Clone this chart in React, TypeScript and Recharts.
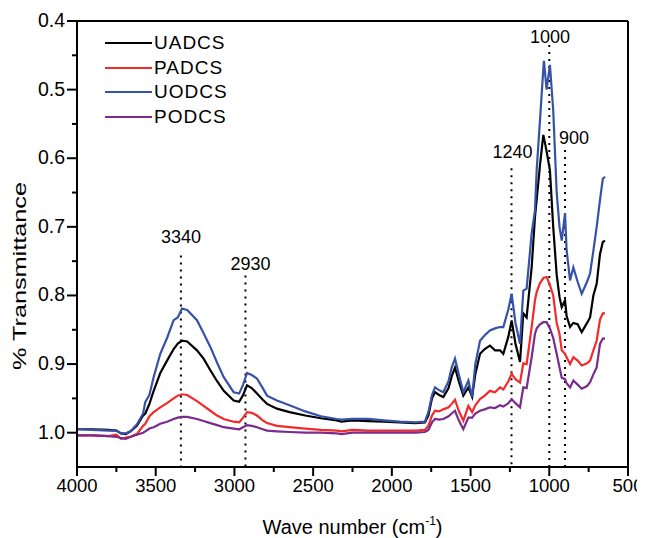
import React from 'react';
import { LineChart, Line, XAxis, YAxis, ReferenceLine, ReferenceDot } from 'recharts';

const wavenumbers = [
  4000, 3900, 3800, 3750, 3720, 3690, 3660, 3620, 3580, 3566, 3540, 3513, 3471, 3428, 3386, 3360, 3333, 3300,
  3238, 3196, 3153, 3110, 3068, 3005, 2970, 2945, 2920, 2890, 2857, 2820, 2793, 2730, 2650, 2550, 2450, 2350,
  2320, 2250, 2150, 2050, 1950, 1850, 1790, 1768, 1745, 1726, 1700, 1673, 1640, 1620, 1599, 1575, 1546, 1514,
  1490, 1470, 1440, 1410, 1377, 1345, 1313, 1292, 1260, 1239, 1215, 1186, 1165, 1144, 1112, 1091, 1080, 1059,
  1038, 1034, 1017, 996, 975, 953, 935, 921, 900, 890, 868, 847, 820, 794, 760, 741, 720, 699, 678, 660, 646,
];

const uadcs = [
  0.995, 0.995, 0.996, 0.997, 1.001, 1.002, 0.998, 0.99, 0.975, 0.972, 0.958, 0.939, 0.913, 0.895, 0.878, 0.87, 0.866, 0.867,
  0.88, 0.892, 0.909, 0.925, 0.939, 0.953, 0.955, 0.945, 0.931, 0.935, 0.943, 0.952, 0.958, 0.965, 0.97, 0.975, 0.979, 0.982,
  0.984, 0.982, 0.983, 0.984, 0.985, 0.986, 0.985, 0.975, 0.95, 0.941, 0.945, 0.948, 0.935, 0.918, 0.905, 0.925, 0.946, 0.934,
  0.948, 0.915, 0.885, 0.878, 0.873, 0.88, 0.88, 0.885, 0.86, 0.8365, 0.87, 0.897, 0.826, 0.832, 0.759, 0.686, 0.66, 0.61,
  0.566, 0.57, 0.59, 0.6175, 0.7, 0.77, 0.8025, 0.817, 0.807, 0.83, 0.846, 0.84, 0.842, 0.8535, 0.84, 0.832, 0.8, 0.783, 0.74, 0.722, 0.72,
];

const padcs = [
  1.004, 1.004, 1.005, 1.003, 1.009, 1.007, 1.006, 1.002, 0.99, 0.987, 0.976, 0.97, 0.963, 0.957, 0.95, 0.946, 0.944, 0.945,
  0.954, 0.961, 0.968, 0.975, 0.98, 0.984, 0.985, 0.978, 0.97, 0.971, 0.975, 0.982, 0.986, 0.99, 0.992, 0.994, 0.996, 0.997,
  0.998, 0.996, 0.997, 0.997, 0.997, 0.997, 0.996, 0.99, 0.975, 0.968, 0.969, 0.966, 0.963, 0.958, 0.952, 0.968, 0.9825, 0.961,
  0.97, 0.96, 0.951, 0.946, 0.939, 0.941, 0.934, 0.937, 0.925, 0.914, 0.922, 0.927, 0.899, 0.9, 0.846, 0.807, 0.795, 0.782,
  0.775, 0.774, 0.773, 0.785, 0.8, 0.84, 0.856, 0.88, 0.885, 0.89, 0.9, 0.89, 0.895, 0.902, 0.899, 0.895, 0.88, 0.866, 0.835, 0.826, 0.826,
];

const uodcs = [
  0.995, 0.996, 0.997, 0.997, 1.001, 1.001, 0.998, 0.988, 0.972, 0.955, 0.945, 0.919, 0.885, 0.862, 0.836, 0.832, 0.819, 0.821,
  0.836, 0.855, 0.875, 0.898, 0.919, 0.941, 0.943, 0.93, 0.913, 0.916, 0.921, 0.935, 0.946, 0.953, 0.96, 0.969, 0.976, 0.98,
  0.981, 0.98, 0.98, 0.982, 0.984, 0.985, 0.984, 0.97, 0.945, 0.934, 0.938, 0.941, 0.925, 0.905, 0.892, 0.915, 0.941, 0.924,
  0.948, 0.9, 0.866, 0.858, 0.851, 0.848, 0.846, 0.846, 0.82, 0.7975, 0.84, 0.8705, 0.793, 0.79, 0.71, 0.676, 0.617, 0.5445,
  0.47, 0.458, 0.5, 0.464, 0.53, 0.65, 0.7, 0.72, 0.68, 0.734, 0.778, 0.759, 0.78, 0.7975, 0.78, 0.768, 0.735, 0.7, 0.661, 0.63, 0.627,
];

const podcs = [
  1.004, 1.004, 1.005, 1.006, 1.008, 1.009, 1.006, 1.003, 1.0, 0.998, 0.994, 0.992, 0.987, 0.984, 0.98, 0.978, 0.977, 0.977,
  0.98, 0.983, 0.986, 0.989, 0.992, 0.994, 0.995, 0.992, 0.989, 0.99, 0.992, 0.995, 0.997, 0.998, 0.999, 1.0, 1.0, 1.001,
  1.002, 1.0, 1.0, 1.0, 1.0, 1.0, 0.999, 0.996, 0.985, 0.98, 0.981, 0.98, 0.976, 0.972, 0.968, 0.982, 0.995, 0.978,
  0.978, 0.972, 0.968, 0.966, 0.963, 0.964, 0.96, 0.962, 0.957, 0.951, 0.957, 0.963, 0.934, 0.935, 0.89, 0.856, 0.848, 0.842,
  0.839, 0.839, 0.839, 0.848, 0.862, 0.885, 0.905, 0.92, 0.922, 0.928, 0.934, 0.924, 0.93, 0.936, 0.932, 0.9265, 0.915, 0.905, 0.8705, 0.863, 0.863,
];

const seriesNames = ['UADCS', 'PADCS', 'UODCS', 'PODCS'];
const seriesColors = ['#000000', '#f22a2a', '#3552a8', '#7a2b8c'];
const seriesValues = [uadcs, padcs, uodcs, podcs];

const xTicks = [4000, 3750, 3500, 3250, 3000, 2750, 2500, 2250, 2000, 1750, 1500, 1250, 1000, 750, 500];
const yTicks = [0.4, 0.45, 0.5, 0.55, 0.6, 0.65, 0.7, 0.75, 0.8, 0.85, 0.9, 0.95, 1.0];

const peakLabels = ['3340', '2930', '1240', '1000', '900'];
const peakPositions = [3340, 2930, 1240, 1000, 900];
const peakLineTops = [0.7416, 0.7708, 0.6146, 0.435, 0.588];
const peakLabelX = [3340, 2898, 1234, 995, 843];
const peakLabelY = [0.7146, 0.754, 0.5905, 0.4226, 0.57];

const data = wavenumbers.map((w, i) => {
  const row: any = { w };
  seriesNames.forEach((n, k) => {
    row[n] = seriesValues[k][i];
  });
  return row;
});

const FONT = '"Liberation Sans", Arial, sans-serif';

const XTick = (props: any) => {
  const { x, y, payload } = props;
  const v = payload.value;
  const major = v % 500 === 0;
  return (
    <g>
      <line x1={x} y1={y} x2={x} y2={y + (major ? 9 : 5)} stroke="#000" strokeWidth={2} />
      {major && (
        <text x={x} y={y + 25} textAnchor="middle" fontSize={18.5} fill="#000" fontFamily={FONT}>
          {v}
        </text>
      )}
    </g>
  );
};

const YTick = (props: any) => {
  const { x, y, payload } = props;
  const v = payload.value;
  const major = Math.abs(v * 10 - Math.round(v * 10)) < 1e-6;
  return (
    <g>
      <line x1={x} y1={y} x2={x - (major ? 10 : 5)} y2={y} stroke="#000" strokeWidth={2} />
      {major && (
        <text x={x - 12} y={y} dy={6} textAnchor="end" fontSize={19.5} fill="#000" fontFamily={FONT}>
          {v.toFixed(1)}
        </text>
      )}
    </g>
  );
};

const XLabel = (props: any) => {
  const vb = props.viewBox || { x: 69, y: 459, width: 551, height: 71 };
  return (
    <text x={vb.x + vb.width / 2} y={vb.y + 67} textAnchor="middle" fontSize={20} fill="#000" fontFamily={FONT}>
      Wave number (cm
      <tspan dy={-9} fontSize={12}>-1</tspan>
      <tspan dy={9}>)</tspan>
    </text>
  );
};

const YLabel = () => {
  const cx = 11;
  const cy = 268;
  return (
    <text
      x={cx}
      y={cy}
      transform={`rotate(-90, ${cx}, ${cy})`}
      textAnchor="middle"
      dominantBaseline="central"
      fontSize={19}
      textLength={188}
      lengthAdjust="spacingAndGlyphs"
      fill="#000"
      fontFamily={FONT}
    >
      % Transmittance
    </text>
  );
};

const LegendBox = () => (
  <div style={{ position: 'absolute', left: 97, top: 23, display: 'flex', flexDirection: 'column', fontFamily: FONT }}>
    {seriesNames.map((n, i) => (
      <div key={n} style={{ display: 'flex', alignItems: 'center', height: 24.5 }}>
        <div style={{ width: 47, height: 2, background: seriesColors[i] }} />
        <span style={{ marginLeft: 2, fontSize: 19, letterSpacing: 1, color: '#000', lineHeight: '24.5px' }}>{n}</span>
      </div>
    ))}
  </div>
);

export default function App() {
  return (
    <div style={{ position: 'relative', width: 629, height: 530, fontFamily: FONT, background: '#fff' }}>
      <LineChart width={637} height={530} data={data} margin={{ top: 13, right: 17, left: 9, bottom: 0 }}>
        <XAxis
          dataKey="w"
          type="number"
          domain={[500, 4000]}
          reversed
          ticks={xTicks}
          interval={0}
          allowDataOverflow
          height={71}
          tickSize={0}
          tickMargin={0}
          tickLine={false}
          tick={<XTick />}
          axisLine={{ stroke: '#000', strokeWidth: 2 }}
          label={{ content: XLabel }}
        />
        <YAxis
          type="number"
          domain={[0.4, 1.05]}
          reversed
          ticks={yTicks}
          interval={0}
          allowDataOverflow
          width={60}
          tickSize={0}
          tickMargin={0}
          tickLine={false}
          tick={<YTick />}
          axisLine={{ stroke: '#000', strokeWidth: 2 }}
          label={{ content: YLabel }}
        />
        <ReferenceLine y={0.4} stroke="#000" strokeWidth={2} />
        <ReferenceLine x={500} stroke="#000" strokeWidth={2} />
        {peakPositions.map((p, i) => (
          <ReferenceLine
            key={'pl' + p}
            segment={[{ x: p, y: peakLineTops[i] }, { x: p, y: 1.05 }]}
            stroke="#000"
            strokeWidth={2}
            strokeDasharray="2 5"
          />
        ))}
        {peakLabels.map((t, i) => (
          <ReferenceDot
            key={'lab' + t}
            x={peakLabelX[i]}
            y={peakLabelY[i]}
            r={0}
            fill="none"
            stroke="none"
            label={{ value: t, position: 'center', fontSize: 18, fill: '#000', fontFamily: FONT }}
          />
        ))}
        {seriesNames.map((n, i) => (
          <Line
            key={n}
            type="linear"
            dataKey={n}
            stroke={seriesColors[i]}
            strokeWidth={2.2}
            dot={false}
            isAnimationActive={false}
          />
        ))}
      </LineChart>
      <LegendBox />
    </div>
  );
}
